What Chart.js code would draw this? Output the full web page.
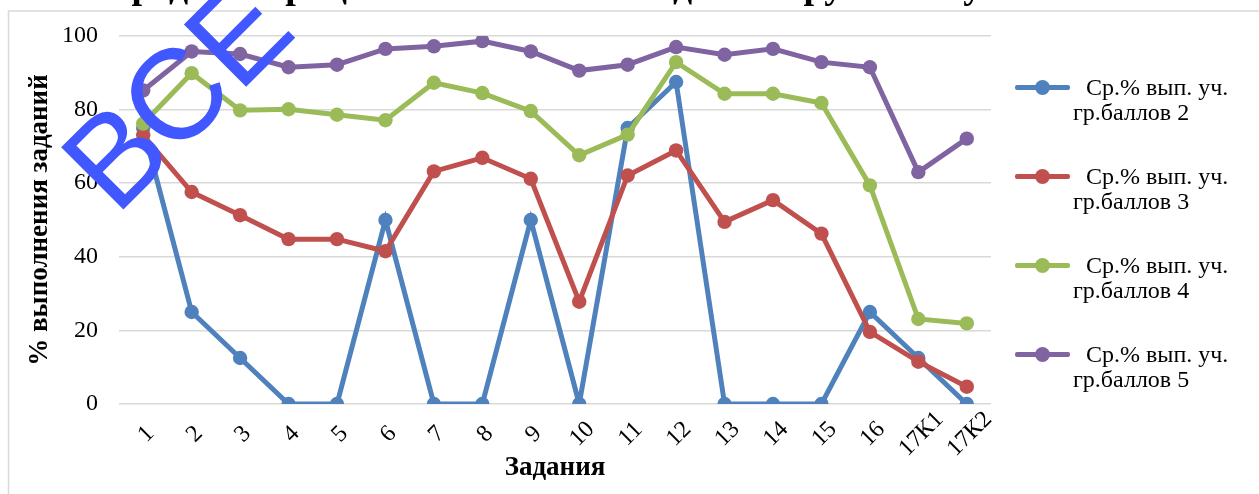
<!DOCTYPE html>
<html>
<head>
<meta charset="utf-8">
<script src="https://cdn.jsdelivr.net/npm/chart.js@4.4.1/dist/chart.umd.min.js"></script>
<style>
    html, body { margin: 0; padding: 0; background: #fff; overflow: hidden; }
    #wrap { position: relative; width: 1259px; height: 494px; }
    #legend { position: absolute; left: 0; top: 0; }
    .item { position: absolute; left: 1015px; width: 240px; height: 60px; }
    .mark { position: absolute; left: 0; top: 7px; width: 55px; height: 5px; border-radius: 2px; }
    .mark span { position: absolute; left: 20px; top: -5px; width: 15px; height: 15px; border-radius: 50%; background: inherit; }
    .txt { position: absolute; left: 58px; top: -3px; font: 24px "Liberation Serif", serif; line-height: 25px; color: #000; white-space: nowrap; }
    .txt .l1 { padding-left: 13px; }
</style>
</head>
<body>
<div id="wrap">
    <canvas id="chart" width="1259" height="494"></canvas>
    <div id="legend"></div>
</div>
<script>
const chartTitle = 'Средний процент выполнения заданий группами участников';
const tasks = ['1', '2', '3', '4', '5', '6', '7', '8', '9', '10', '11', '12', '13', '14', '15', '16', '17К1', '17К2'];
const seriesNames = ['Ср.% вып. уч. гр.баллов 2', 'Ср.% вып. уч. гр.баллов 3', 'Ср.% вып. уч. гр.баллов 4', 'Ср.% вып. уч. гр.баллов 5'];
const group2 = [75, 25, 12.5, 0, 0, 50, 0, 0, 50, 0, 75, 87.5, 0, 0, 0, 25, 12.5, 0];
const group3 = [73, 57.6, 51.3, 44.8, 44.8, 41.5, 63.2, 66.9, 61.2, 27.8, 62.1, 68.9, 49.5, 55.4, 46.3, 19.6, 11.5, 4.7];
const group4 = [76.2, 89.9, 79.8, 80.1, 78.6, 77.1, 87.3, 84.5, 79.6, 67.6, 73.2, 92.9, 84.3, 84.3, 81.8, 59.4, 23.1, 21.9];
const group5 = [85.2, 95.8, 95.1, 91.5, 92.2, 96.5, 97.2, 98.6, 95.8, 90.6, 92.2, 97.0, 94.9, 96.5, 92.9, 91.5, 63.0, 72.1];
const yTicks = [0, 20, 40, 60, 80, 100];
const colors = ['#4F81BD', '#C0504D', '#9BBB59', '#8064A2'];
const watermark = 'ВСЕ';

const serif = '"Liberation Serif", "Times New Roman", serif';

function makeSet(i, data) {
    return {
        label: seriesNames[i],
        data: data,
        borderColor: colors[i],
        backgroundColor: colors[i],
        borderWidth: 5,
        pointRadius: 7.2,
        pointHoverRadius: 7.2,
        pointBorderWidth: 0,
        tension: 0,
        order: 4 - i
    };
}

// frame, cut-off title and the "ВСЕ" stamp
const decorPlugin = {
    id: 'decor',
    beforeDraw(chart) {
        const ctx = chart.ctx;
        // excel centres the slanted task labels on the tick
        chart.scales.x.getLabelItems(chart.chartArea).forEach(item => {
            item.options.textAlign = 'center';
        });
        ctx.save();
        ctx.strokeStyle = '#d9d9d9';
        ctx.lineWidth = 1.5;
        ctx.beginPath();
        ctx.moveTo(8.5, 494);
        ctx.lineTo(8.5, 11);
        ctx.lineTo(1259, 11);
        ctx.stroke();
        ctx.fillStyle = '#000';
        ctx.font = 'bold 38px ' + serif;
        ctx.textAlign = 'center';
        ctx.textBaseline = 'alphabetic';
        ctx.fillText(chartTitle, 633, -2);
        ctx.restore();
    },
    afterDraw(chart) {
        const ctx = chart.ctx;
        ctx.save();
        ctx.translate(116, 217);
        ctx.rotate(-Math.PI / 4);
        ctx.fillStyle = '#4157FF';
        ctx.font = '128px "Liberation Sans", Arial, sans-serif';
        ctx.textAlign = 'left';
        ctx.textBaseline = 'alphabetic';
        ctx.fillText(watermark, 0, 0);
        ctx.restore();
    }
};

new Chart(document.getElementById('chart'), {
    type: 'line',
    data: {
        labels: tasks,
        datasets: [makeSet(0, group2), makeSet(1, group3), makeSet(2, group4), makeSet(3, group5)]
    },
    options: {
        responsive: false,
        animation: false,
        layout: { padding: { top: 36, right: 268, bottom: 0, left: 0 } },
        plugins: {
            legend: { display: false },
            tooltip: { enabled: false }
        },
        scales: {
            x: {
                offset: true,
                grid: { display: false, drawTicks: false },
                border: { display: false },
                ticks: {
                    autoSkip: false,
                    minRotation: 45,
                    maxRotation: 45,
                    padding: 20,
                    labelOffset: 3,
                    color: '#000',
                    font: { family: serif, size: 24 }
                },
                title: {
                    display: true,
                    text: 'Задания',
                    color: '#000',
                    font: { family: serif, size: 27, weight: 'bold' },
                    padding: { top: 0, bottom: 10 }
                },
                afterFit(scale) { scale.height = 90; }
            },
            y: {
                min: 0,
                max: 100,
                afterBuildTicks(scale) { scale.ticks = yTicks.map(v => ({ value: v })); },
                grid: { color: '#d9d9d9', lineWidth: 1.5, drawTicks: false },
                border: { display: false },
                ticks: {
                    padding: 21,
                    color: '#000',
                    font: { family: serif, size: 24 }
                },
                title: {
                    display: true,
                    text: '% выполнения заданий',
                    color: '#000',
                    font: { family: serif, size: 27, weight: 'bold' },
                    padding: { top: 24 }
                },
                afterFit(scale) { scale.width = 119; }
            }
        }
    },
    plugins: [decorPlugin]
});

// legend, two lines per entry as in the original
const legendBox = document.getElementById('legend');
const legendTops = [78, 167, 256, 345];
seriesNames.forEach((name, i) => {
    const cut = name.indexOf(' гр.');
    const item = document.createElement('div');
    item.className = 'item';
    item.style.top = legendTops[i] + 'px';
    item.innerHTML = '<div class="mark" style="background:' + colors[i] + '"><span></span></div>' +
        '<div class="txt"><div class="l1">' + name.slice(0, cut) + '</div><div>' + name.slice(cut + 1) + '</div></div>';
    legendBox.appendChild(item);
});
</script>
</body>
</html>
